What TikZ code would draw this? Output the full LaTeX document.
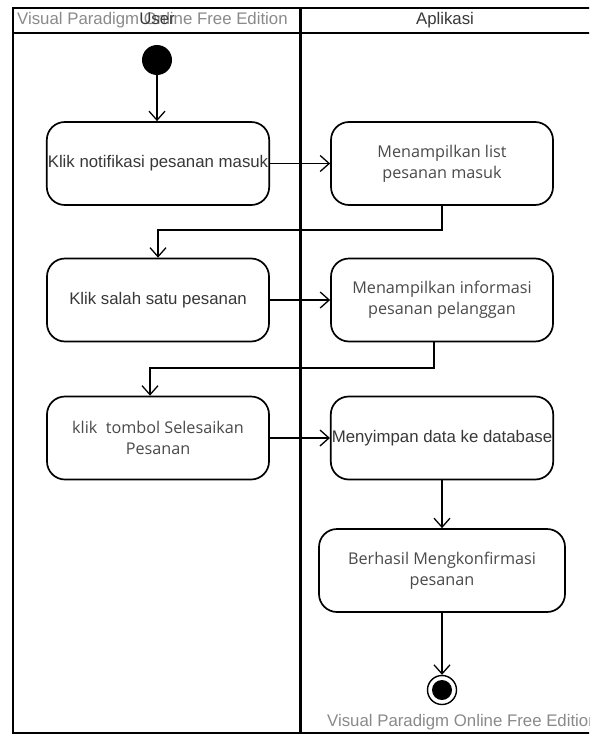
\documentclass[tikz,border=0pt]{standalone}
\usepackage{fontspec}
\setmainfont{Liberation Sans}
\newfontfamily\segoe{Open Sans}
\usetikzlibrary{arrows.meta}
\definecolor{txt}{HTML}{383838}
\definecolor{txtb}{HTML}{4A4A4A}
\definecolor{wm}{HTML}{8A8A8A}
\tikzset{
  act/.style={draw, line width=1.7pt, rounded corners=18pt, minimum width=222pt, minimum height=83pt, align=center, inner sep=1pt},
  flow/.style={line width=1.3pt, -{Straight Barb[length=9pt,width=16pt,line width=1.3pt]}},
  lane/.style={line width=2.4pt},
  ttlA/.style={text=txt, font=\fontsize{16.8}{19}\selectfont},
  ttlB/.style={text=txtb, font=\segoe\fontsize{16.2}{21}\selectfont}
}
\begin{document}
\begin{tikzpicture}[x=1pt,y=-1pt]
\useasboundingbox (0,0) rectangle (589,736);
\fill[white] (0,0) rectangle (589,736);
\clip (0,0) rectangle (589,736);
% frame
\draw[lane] (13,8) rectangle (600,733);
\draw[lane] (13,33) -- (600,33);
\draw[line width=3pt] (300,8) -- (300,733);
% headers
\node[text=wm, anchor=west, font=\fontsize{16.8}{19}\selectfont, inner sep=0] (wm1) at (17,20) {Visual Paradigm Online Free Edition};
\node[text=txt, font=\fontsize{16.8}{19}\selectfont, inner sep=0] (hU) at (157,19) {User};
\node[text=txt, font=\fontsize{16.8}{19}\selectfont, inner sep=0] (hA) at (445,20) {Aplikasi};
\node[text=wm, anchor=west, font=\fontsize{16.8}{19}\selectfont, inner sep=0] (wm2) at (327,722) {Visual Paradigm Online Free Edition};
% nodes
\node[circle, fill=black, minimum size=30pt, inner sep=0] (start) at (157,60) {};
\node[act, ttlA] (b1) at (158,163.5) {Klik notifikasi pesanan masuk};
\node[act, ttlB] (b2) at (442,163.5) {Menampilkan list\\pesanan masuk};
\node[act, ttlA] (b3) at (158,300) {Klik salah satu pesanan};
\node[act, ttlB] (b4) at (442,300) {Menampilkan informasi\\pesanan pelanggan};
\node[act, ttlB] (b5) at (158,438) {klik\ \ tombol Selesaikan\\Pesanan};
\node[act, ttlA] (b6) at (442,438) {Menyimpan data ke database};
\node[act, ttlB, minimum width=246pt] (b7) at (442,570.5) {Berhasil Mengkonfirmasi\\pesanan};
\node[circle, draw, line width=1.4pt, minimum size=29pt, inner sep=0] (end) at (442,690) {};
\node[circle, fill=black, minimum size=20pt, inner sep=0] (endin) at (end) {};
% flows
\draw[flow] (start) -- (start |- b1.north);
\draw[flow] (b1) -- (b2);
\draw[flow] (b2.south) |- (158,230) -- (b3.north);
\draw[flow] (b3) -- (b4);
\draw[flow] ([xshift=-8pt]b4.south) |- (150,368) -- ([xshift=-8pt]b5.north);
\draw[flow] (b5) -- (b6);
\draw[flow] (b6) -- (b7);
\draw[flow] (b7) -- (end);
\end{tikzpicture}
\end{document}
